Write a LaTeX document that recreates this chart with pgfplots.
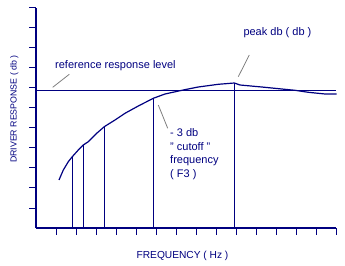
\documentclass[border=0pt]{standalone}
\usepackage{pgfplots}
\pgfplotsset{compat=1.18}
\usepackage{fontspec}
\setmainfont{Liberation Sans}
\definecolor{navy}{RGB}{0,0,128}
\definecolor{leader}{RGB}{128,128,128}
\begin{document}
\begin{tikzpicture}
\useasboundingbox (0,0) rectangle (345pt,265pt);
\begin{axis}[
  at={(36pt,37pt)}, anchor=south west,
  x=20pt, y=20pt,
  xmin=0, xmax=15, ymin=0, ymax=11,
  axis x line*=bottom, axis y line*=left,
  axis line style={navy, line width=2.3pt},
  xtick={1,...,15}, ytick={1,...,11},
  xticklabels={}, yticklabels={},
  tick align=outside, major tick length=6.8pt,
  tick style={navy, line width=1pt},
  clip=false,
]
% reference response level
\addplot[navy, line width=1pt] coordinates {(0,6.85) (15,6.85)};
% response curve
\addplot[navy, line width=1.2pt] coordinates {
(1.15,2.40) (1.365,2.90) (1.615,3.315) (1.815,3.565) (2.115,3.90)
(2.365,4.15) (2.615,4.315) (3.035,4.735) (3.415,5.065) (3.95,5.40)
(4.45,5.735) (5.115,6.10) (5.865,6.485) (6.45,6.70) (7.365,6.90)
(8.115,7.05) (9.115,7.185) (9.915,7.25) (10.2,7.15) (11.285,7.05)
(12.285,6.95) (12.95,6.885) (13.615,6.785) (14.45,6.70) (15.035,6.70)
};
% vertical drop lines
\addplot[navy, line width=1pt, ycomb, mark=none] coordinates {
(1.815,3.565) (2.365,4.15) (3.415,5.065) (5.865,6.485) (9.915,7.25)
};
% leader lines
\draw[leader, line width=0.8pt] (axis cs:0.835,7.035) -- (axis cs:1.665,7.685);
\draw[leader, line width=0.8pt] (axis cs:10.115,7.565) -- (axis cs:10.665,8.65);
\draw[leader, line width=0.8pt] (axis cs:6.115,6.15) -- (axis cs:6.585,4.985);
% annotations
\node[navy, anchor=base west, inner sep=0pt, font=\fontsize{11}{13}\selectfont] at (axis cs:0.95,7.975) {reference response level};
\node[navy, anchor=base west, inner sep=0pt, font=\fontsize{11}{13}\selectfont] at (axis cs:10.365,9.615) {peak db ( db )};
\node[navy, anchor=base west, inner sep=0pt, font=\fontsize{11}{13}\selectfont] at (axis cs:6.7,4.55) {- 3 db};
\node[navy, anchor=base west, inner sep=0pt, font=\fontsize{11}{13}\selectfont] at (axis cs:6.7,3.875) {" cutoff "};
\node[navy, anchor=base west, inner sep=0pt, font=\fontsize{11}{13}\selectfont] at (axis cs:6.7,3.2) {frequency};
\node[navy, anchor=base west, inner sep=0pt, font=\fontsize{11}{13}\selectfont] at (axis cs:6.7,2.525) {( F3 )};
% axis labels
\node[navy, anchor=base, inner sep=0pt, font=\fontsize{10.2}{12}\selectfont] at (axis cs:7.325,-1.5) {FREQUENCY ( Hz )};
\node[navy, anchor=base, rotate=90, inner sep=0pt, font=\fontsize{8.8}{11}\selectfont] at (axis cs:-0.965,5.94) {DRIVER RESPONSE ( db )};
\end{axis}
\end{tikzpicture}
\end{document}
